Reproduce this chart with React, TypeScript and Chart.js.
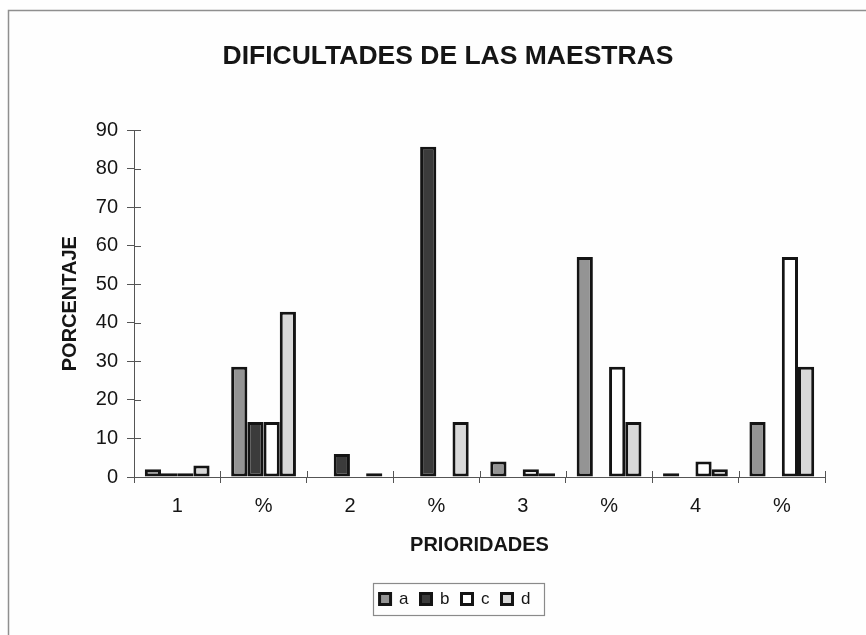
import React, { useEffect, useRef } from 'react';
import { Chart, registerables } from 'chart.js';

Chart.register(...registerables);

const categories = ['1', '%', '2', '%', '3', '%', '4', '%'];
const seriesNames = ['a', 'b', 'c', 'd'];
const seriesA = [2, 28.6, 0, 0, 4, 57.1, 1, 14.3];
const seriesB = [1, 14.3, 6, 85.7, 0, 0, 0, 0];
const seriesC = [1, 14.3, 0, 0, 2, 28.6, 4, 57.1];
const seriesD = [3, 42.9, 1, 14.3, 1, 14.3, 2, 28.6];
const seriesColors = ['#949494', '#3b3b3b', '#ffffff', '#d8d8d8'];
const yMin = 0;
const yMax = 90;
const yStep = 10;
const titleText = 'DIFICULTADES DE LAS MAESTRAS';
const yTitle = 'PORCENTAJE';
const xTitle = 'PRIORIDADES';

const FONT = "'Liberation Sans', Arial, sans-serif";
const AXIS_COLOR = '#555555';

const bgFramePlugin = {
  id: 'bgFrame',
  beforeDraw(chart: any) {
    const { ctx, width, height } = chart;
    ctx.save();
    ctx.fillStyle = '#fefefe';
    ctx.fillRect(0, 0, width, height);
    ctx.strokeStyle = '#8f8f8f';
    ctx.lineWidth = 1.5;
    ctx.beginPath();
    ctx.moveTo(8.5, height);
    ctx.lineTo(8.5, 10.5);
    ctx.lineTo(width, 10.5);
    ctx.stroke();
    ctx.restore();
  },
};

const legendShiftPlugin = {
  id: 'legendShift',
  afterLayout(chart: any) {
    const lg = chart.legend;
    if (!lg) return;
    lg.left += 7;
    lg.right += 7;
  },
};

const crossTicksPlugin = {
  id: 'crossTicks',
  afterDatasetsDraw(chart: any) {
    const { ctx, chartArea } = chart;
    const ys = chart.scales.y;
    const xs = chart.scales.x;
    ctx.save();
    ctx.strokeStyle = AXIS_COLOR;
    ctx.lineWidth = 1;
    ctx.beginPath();
    ys.ticks.forEach((_t: any, i: number) => {
      const y = Math.round(ys.getPixelForTick(i)) + 0.5;
      ctx.moveTo(chartArea.left, y);
      ctx.lineTo(chartArea.left + 7, y);
    });
    const n = xs.ticks.length;
    const w = (chartArea.right - chartArea.left) / n;
    for (let i = 0; i <= n; i++) {
      const x = Math.round(chartArea.left + i * w) + 0.5;
      ctx.moveTo(x, chartArea.bottom);
      ctx.lineTo(x, chartArea.bottom - 6);
    }
    ctx.stroke();
    ctx.restore();
  },
};

const legendBorderPlugin = {
  id: 'legendBorder',
  afterDraw(chart: any) {
    const lg = chart.legend;
    if (!lg || !lg.legendHitBoxes || !lg.legendHitBoxes.length) return;
    const hb = lg.legendHitBoxes;
    let left = Infinity;
    let right = -Infinity;
    hb.forEach((h: any) => {
      left = Math.min(left, h.left);
      right = Math.max(right, h.left + h.width);
    });
    const cy = hb[0].top + hb[0].height / 2;
    const { ctx } = chart;
    ctx.save();
    ctx.strokeStyle = '#8a8a8a';
    ctx.lineWidth = 1.2;
    ctx.strokeRect(Math.round(left - 7) + 0.5, Math.round(cy - 16) + 0.5, Math.round(right - left + 20), 32);
    ctx.restore();
  },
};

export default function App() {
  const ref = useRef<HTMLCanvasElement | null>(null);

  useEffect(() => {
    if (!ref.current) return;
    const series = [seriesA, seriesB, seriesC, seriesD];
    const chart = new Chart(ref.current, {
      type: 'bar',
      data: {
        labels: categories,
        datasets: series.map((vals, i) => ({
          label: seriesNames[i],
          data: vals,
          backgroundColor: seriesColors[i],
          borderColor: '#141414',
          borderWidth: 3,
          borderSkipped: false,
          categoryPercentage: 0.75,
          barPercentage: 1.0,
        })),
      },
      options: {
        responsive: false,
        animation: false,
        devicePixelRatio: 1,
        layout: { padding: { left: 30, right: 0, top: 0, bottom: 17.5 } },
        plugins: {
          title: {
            display: true,
            text: titleText,
            color: '#151515',
            font: { family: FONT, size: 26.5, weight: 'bold' },
            padding: { top: 40.5, bottom: 58 },
          },
          legend: {
            position: 'bottom',
            labels: {
              boxWidth: 11,
              boxHeight: 11,
              padding: 12,
              color: '#151515',
              font: { family: FONT, size: 17 },
            },
          },
          tooltip: { enabled: false },
        },
        scales: {
          x: {
            grid: {
              display: true,
              drawOnChartArea: false,
              drawTicks: true,
              tickLength: 6,
              color: AXIS_COLOR,
              offset: true,
            },
            border: { display: true, color: AXIS_COLOR, width: 1 },
            ticks: {
              color: '#151515',
              padding: 11,
              font: { family: FONT, size: 20 },
              maxRotation: 0,
              autoSkip: false,
            },
            title: {
              display: true,
              text: xTitle,
              color: '#151515',
              font: { family: FONT, size: 20, weight: 'bold' },
              padding: { top: 0, bottom: 21 },
            },
            afterFit: (s: any) => {
              s.height = 101.5;
            },
          },
          y: {
            min: yMin,
            max: yMax,
            grid: {
              display: true,
              drawOnChartArea: false,
              drawTicks: true,
              tickLength: 7,
              color: AXIS_COLOR,
            },
            border: { display: true, color: AXIS_COLOR, width: 1 },
            ticks: {
              stepSize: yStep,
              color: '#151515',
              padding: 9,
              font: { family: FONT, size: 20 },
            },
            title: {
              display: true,
              text: yTitle,
              color: '#151515',
              font: { family: FONT, size: 20, weight: 'bold' },
              padding: { top: 28.5, bottom: 0 },
            },
            afterFit: (s: any) => {
              s.width = 104;
            },
          },
          yRight: {
            position: 'right',
            display: true,
            grid: { display: false },
            border: { display: false },
            ticks: { display: false },
            afterFit: (s: any) => {
              s.width = 41;
            },
          },
        },
      },
      plugins: [bgFramePlugin, legendShiftPlugin, crossTicksPlugin, legendBorderPlugin],
    } as any);
    return () => chart.destroy();
  }, []);

  return (
    <div style={{ position: 'fixed', left: 0, top: 0, width: 866, height: 635 }}>
      <canvas ref={ref} width={866} height={635} style={{ display: 'block' }} />
    </div>
  );
}
